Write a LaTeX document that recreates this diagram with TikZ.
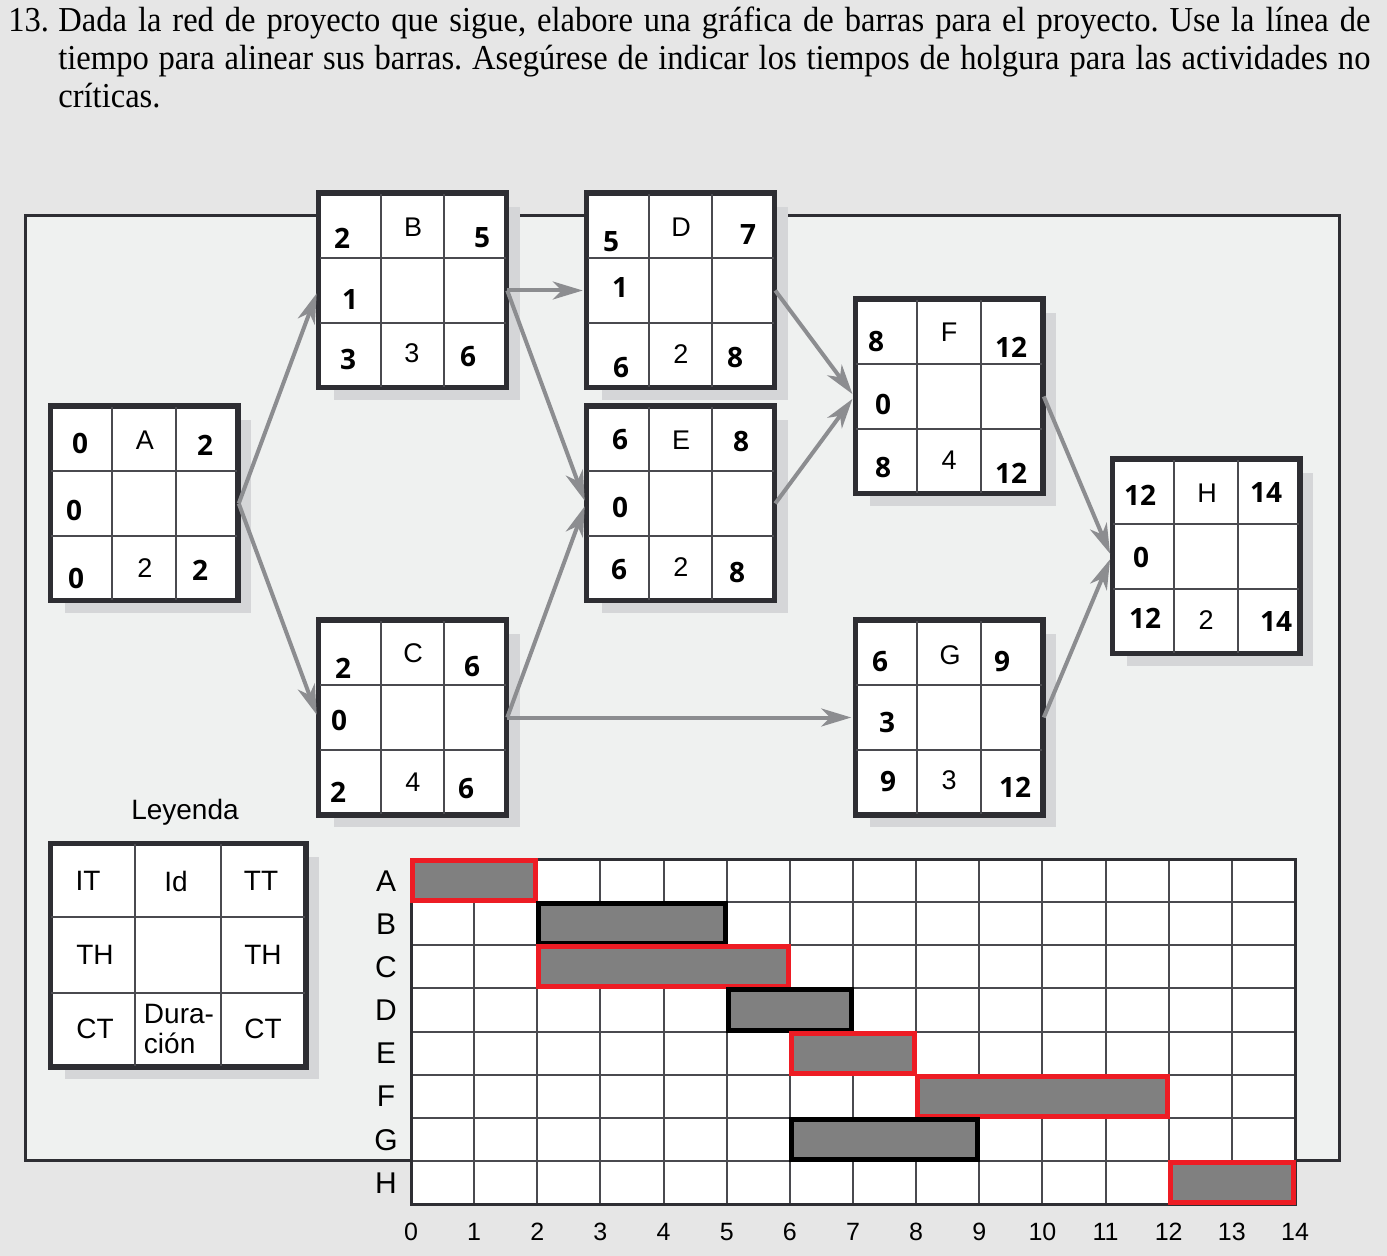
\documentclass[tikz,border=0pt]{standalone}
\usepackage{fontspec}
\setmainfont{Liberation Sans}
\newfontfamily\numfont{Open Sans}
\newfontfamily\titlefont{Liberation Serif}[FakeStretch=0.93]
\usetikzlibrary{arrows.meta,calc,shadows}
\definecolor{pagebg}{HTML}{E6E6E6}
\definecolor{framebg}{HTML}{EFF1F0}
\definecolor{shadowc}{HTML}{D5D6D8}
\definecolor{boxc}{HTML}{2E2E33}
\definecolor{innerc}{HTML}{4A4A4F}
\definecolor{arrc}{HTML}{8C8D90}
\definecolor{barred}{HTML}{ED1C24}
\definecolor{barfill}{HTML}{808080}
\tikzset{
  actbox/.style={draw=boxc, line width=1.75pt, fill=white, minimum width=93pt, minimum height=96.5pt, inner sep=0pt,
    drop shadow={shadow xshift=7pt, shadow yshift=-6.5pt, fill=shadowc, opacity=1}},
  legbox/.style={draw=boxc, line width=1.75pt, fill=white, minimum width=127pt, minimum height=111pt, inner sep=0pt,
    drop shadow={shadow xshift=7pt, shadow yshift=-6.5pt, fill=shadowc, opacity=1}},
  innerline/.style={draw=innerc, line width=1pt},
  num/.style={font=\numfont\bfseries\fontsize{14pt}{14pt}\selectfont, inner sep=0pt},
  lab/.style={font=\fontsize{13.5pt}{13.5pt}\selectfont, inner sep=0pt},
  legtxt/.style={font=\fontsize{14pt}{15pt}\selectfont, inner sep=0pt, align=left},
  arr/.style={draw=arrc, line width=2pt, -{Stealth[length=15pt,width=9pt,inset=4.5pt]}, shorten >=1.5pt},
  gline/.style={draw=innerc, line width=1pt},
  bar/.style={fill=barfill, line width=2.5pt},
  glab/.style={font=\fontsize{15pt}{15pt}\selectfont, inner sep=0pt},
  tlab/.style={font=\fontsize{12.5pt}{12.5pt}\selectfont, inner sep=0pt},
  titletxt/.style={font=\titlefont\fontsize{17.5pt}{19pt}\selectfont, inner sep=0pt, anchor=base west}
}
\newcommand\cellgrid[1]{%
  \draw[innerline] ($(#1.north west)!1/3!(#1.north east)$) -- ($(#1.south west)!1/3!(#1.south east)$);
  \draw[innerline] ($(#1.north west)!2/3!(#1.north east)$) -- ($(#1.south west)!2/3!(#1.south east)$);
  \draw[innerline] ($(#1.north west)!1/3!(#1.south west)$) -- ($(#1.north east)!1/3!(#1.south east)$);
  \draw[innerline] ($(#1.north west)!2/3!(#1.south west)$) -- ($(#1.north east)!2/3!(#1.south east)$);
  \draw[draw=boxc, line width=1.75pt] (#1.north west) rectangle (#1.south east);
}
\begin{document}
\frenchspacing
\begin{tikzpicture}[x=0.5pt,y=-0.5pt]
\fill[pagebg] (0,0) rectangle (1387,1256);
\useasboundingbox (0,0) rectangle (1387,1256);

% title
\node[titletxt] (t0) at (8,32) {13.};
\node[titletxt] (t1) at (58,32) {\makebox[656pt][s]{Dada la red de proyecto que sigue, elabore una gráfica de barras para el proyecto. Use la línea de}};
\node[titletxt] (t2) at (58,70) {\makebox[656pt][s]{tiempo para alinear sus barras. Asegúrese de indicar los tiempos de holgura para las actividades no}};
\node[titletxt] (t3) at (58,108) {críticas.};

% frame
\draw[fill=framebg, draw=boxc, line width=1.5pt] (25,216) rectangle (1339,1160);

% activity boxes
\node[actbox] (A) at (144,503.5) {};
\node[actbox] (B) at (412.5,290.5) {};
\node[actbox] (C) at (412.5,717.5) {};
\node[actbox] (D) at (680.5,290.5) {};
\node[actbox] (E) at (680.5,503.5) {};
\node[actbox] (F) at (949,396.5) {};
\node[actbox] (G) at (949,717.5) {};
\node[actbox] (H) at (1206,556.5) {};
\foreach \b in {A,B,C,D,E,F,G,H} {\cellgrid{\b}}

% arrows
\draw[arr] (A.east) -- (B.west);
\draw[arr] (A.east) -- (C.west);
\draw[arr] (B.east) -- (D.west);
\draw[arr] (B.east) -- (E.west);
\draw[arr] (C.east) -- (E.west);
\draw[arr] (C.east) -- (G.west);
\draw[arr] (D.east) -- (F.west);
\draw[arr] (E.east) -- (F.west);
\draw[arr] (F.east) -- (H.west);
\draw[arr] (G.east) -- (H.west);

% box A
\node[num] (A1) at (80,443) {0};
\node[lab] (A2) at (145,440) {A};
\node[num] (A3) at (205,445) {2};
\node[num] (A4) at (74,510) {0};
\node[num] (A5) at (76,578) {0};
\node[lab] (A6) at (145,568) {2};
\node[num] (A7) at (200,570) {2};
% box B
\node[num] (B1) at (342,238) {2};
\node[lab] (B2) at (413,227) {B};
\node[num] (B3) at (482,238) {5};
\node[num] (B4) at (350,300) {1};
\node[num] (B5) at (348,360) {3};
\node[lab] (B6) at (412,353) {3};
\node[num] (B7) at (468,357) {6};
% box C
\node[num] (C1) at (343,668) {2};
\node[lab] (C2) at (413,653) {C};
\node[num] (C3) at (472,667) {6};
\node[num] (C4) at (339,720) {0};
\node[num] (C5) at (338,792) {2};
\node[lab] (C6) at (413,782) {4};
\node[num] (C7) at (466,789) {6};
% box D
\node[num] (D1) at (611,242) {5};
\node[lab] (D2) at (681,227) {D};
\node[num] (D3) at (748,235) {7};
\node[num] (D4) at (620,288) {1};
\node[num] (D5) at (621,368) {6};
\node[lab] (D6) at (681,354) {2};
\node[num] (D7) at (735,358) {8};
% box E
\node[num] (E1) at (620,440) {6};
\node[lab] (E2) at (681,440) {E};
\node[num] (E3) at (741,442) {8};
\node[num] (E4) at (620,507) {0};
\node[num] (E5) at (619,570) {6};
\node[lab] (E6) at (681,567) {2};
\node[num] (E7) at (737,573) {8};
% box F
\node[num] (F1) at (876,342) {8};
\node[lab] (F2) at (949,332) {F};
\node[num] (F3) at (1011,347) {12};
\node[num] (F4) at (883,404) {0};
\node[num] (F5) at (883,468) {8};
\node[lab] (F6) at (949,460) {4};
\node[num] (F7) at (1011,473) {12};
% box G
\node[num] (G1) at (880,662) {6};
\node[lab] (G2) at (950,655) {G};
\node[num] (G3) at (1002,662) {9};
\node[num] (G4) at (887,722) {3};
\node[num] (G5) at (888,782) {9};
\node[lab] (G6) at (949,780) {3};
\node[num] (G7) at (1015,787) {12};
% box H
\node[num] (H1) at (1140,495) {12};
\node[lab] (H2) at (1207,493) {H};
\node[num] (H3) at (1266,493) {14};
\node[num] (H4) at (1141,557) {0};
\node[num] (H5) at (1145,618) {12};
\node[lab] (H6) at (1206,620) {2};
\node[num] (H7) at (1276,622) {14};

% legend
\node[legtxt] (legtitle) at (185,812) {Leyenda};
\node[legbox] (L) at (178,955) {};
\cellgrid{L}
\node[legtxt] (L1) at (88,881) {IT};
\node[legtxt] (L2) at (176,881) {Id};
\node[legtxt] (L3) at (261,881) {TT};
\node[legtxt] (L4) at (95,955) {TH};
\node[legtxt] (L5) at (263,955) {TH};
\node[legtxt] (L6) at (95,1029) {CT};
\node[legtxt] (L7) at (179,1029) {Dura-\\ción};
\node[legtxt] (L8) at (263,1029) {CT};

% gantt chart
\fill[white] (411,859) rectangle (1295,1204);
\foreach \i in {1,...,13} \draw[gline] ({411+\i*63.142857},859) -- ({411+\i*63.142857},1204);
\foreach \j in {1,...,7} \draw[gline] (411,{859+\j*43.125}) -- (1295,{859+\j*43.125});
\node[draw=boxc, line width=1.5pt, minimum width=442pt, minimum height=172.5pt, inner sep=0pt] (gantt) at (853,1031.5) {};
\foreach \r/\s/\e/\c in {0/0/2/barred,1/2/5/black,2/2/6/barred,3/5/7/black,4/6/8/barred,5/8/12/barred,6/6/9/black,7/12/14/barred}
  \draw[bar,draw=\c] ({411+\s*63.142857+1.5},{859+\r*43.125+1.5}) rectangle ({411+\e*63.142857-1.5},{859+(\r+1)*43.125-1.5});
\foreach \l [count=\k from 0] in {A,B,C,D,E,F,G,H}
  \node[glab] (row\l) at (386,{881+\k*43.125}) {\l};
\foreach \t in {0,...,14}
  \node[tlab] (tick\t) at ({411+\t*63.142857},1232) {\t};
\end{tikzpicture}
\end{document}
